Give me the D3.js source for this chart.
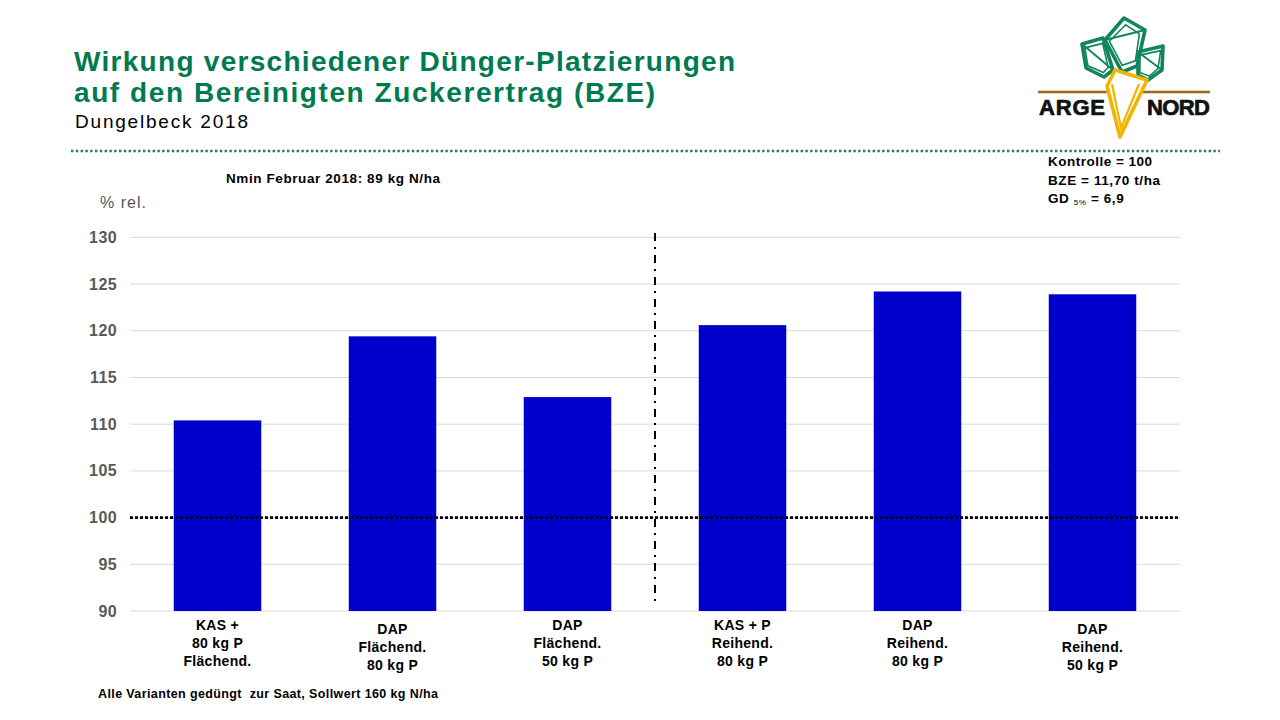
<!DOCTYPE html>
<html>
<head>
<meta charset="utf-8">
<script src="https://cdn.jsdelivr.net/npm/d3@7"></script>
<style>
  body { margin: 0; background: #fff; }
  svg { display: block; font-family: "Liberation Sans", Arial, sans-serif; }
</style>
</head>
<body>
<svg width="1280" height="720"></svg>
<script>
// Data
var categories = [
    ["KAS +", "80 kg P", "Flächend."],
    ["DAP", "Flächend.", "80 kg P"],
    ["DAP", "Flächend.", "50 kg P"],
    ["KAS + P", "Reihend.", "80 kg P"],
    ["DAP", "Reihend.", "80 kg P"],
    ["DAP", "Reihend.", "50 kg P"]
];
var values = [110.4, 119.4, 112.9, 120.6, 124.2, 123.9];
var yTicks = [90, 95, 100, 105, 110, 115, 120, 125, 130];
var controlValue = 100;

var svg = d3.select("svg");

// Scales
var x = d3.scaleBand()
    .domain(d3.range(categories.length))
    .range([130, 1180])
    .paddingInner(0.5)
    .paddingOuter(0.25);

var y = d3.scaleLinear()
    .domain([90, 130])
    .range([611, 237.3]);

// helper for text stretched to the width seen in the reference
function label(parent, xPos, yPos, size, bold, txt, len) {
    var t = parent.append("text")
        .attr("x", xPos).attr("y", yPos)
        .attr("font-size", size)
        .attr("font-weight", bold ? "bold" : "normal")
        .attr("xml:space", "preserve")
        .text(txt);
    if (len) t.attr("textLength", len).attr("lengthAdjust", "spacing");
    return t;
}

// Title block
label(svg, 74, 71, 28, true, "Wirkung verschiedener Dünger-Platzierungen", 661).attr("fill", "#007a4f");
label(svg, 74, 102, 28, true, "auf den Bereinigten Zuckerertrag (BZE)", 581).attr("fill", "#007a4f");
label(svg, 75, 128, 19, false, "Dungelbeck 2018", 173).attr("fill", "#000");

// green dotted separator
svg.append("line")
    .attr("x1", 71).attr("x2", 1220)
    .attr("y1", 151).attr("y2", 151)
    .attr("stroke", "#2a7d55").attr("stroke-width", 2.6)
    .attr("stroke-dasharray", "2.4,2.4");

// Logo (simplified drawing)
var logo = svg.append("g").attr("class", "logo");
var leafGreen = "#12855a";
[
    [[1082, 44], [1103, 38], [1113, 70], [1104, 77], [1086, 68]],
    [[1105, 40], [1124, 18], [1145, 30], [1137, 66], [1122, 72]],
    [[1138, 52], [1163, 46], [1162, 70], [1148, 80], [1138, 75]]
].forEach(function (pts) {
    logo.append("path")
        .attr("d", d3.line()(pts) + "Z")
        .attr("fill", "none")
        .attr("stroke", leafGreen)
        .attr("stroke-width", 3.6)
        .attr("stroke-linejoin", "round");
    var inner = pts.map(function (p, i) {
        var cx = d3.mean(pts, function (q) { return q[0]; });
        var cy = d3.mean(pts, function (q) { return q[1]; });
        return [cx + (p[0] - cx) * 0.75 + (i % 2 ? 1 : -1), cy + (p[1] - cy) * 0.75];
    });
    logo.append("path")
        .attr("d", d3.line()(inner) + "Z")
        .attr("fill", "none")
        .attr("stroke", leafGreen).attr("stroke-width", 1.6);
    logo.append("path")
        .attr("d", d3.line()([pts[0], pts[2]]))
        .attr("stroke", leafGreen).attr("stroke-width", 2);
});
logo.append("line")
    .attr("x1", 1038).attr("x2", 1210)
    .attr("y1", 92).attr("y2", 92)
    .attr("stroke", "#a8621f").attr("stroke-width", 2.6);
logo.append("path")
    .attr("d", d3.line()([[1115, 70], [1147, 80], [1120, 137], [1107, 86]]) + "Z")
    .attr("fill", "#fff")
    .attr("stroke", "#f2b400").attr("stroke-width", 3.6)
    .attr("stroke-linejoin", "round");
logo.append("path")
    .attr("d", d3.line()([[1112, 84], [1121, 128], [1139, 84]]))
    .attr("fill", "none")
    .attr("stroke", "#f2b400").attr("stroke-width", 2.2);
label(logo, 1039, 115, 22, true, "ARGE", 66).attr("fill", "#111").attr("stroke", "#111").attr("stroke-width", 0.7);
label(logo, 1147, 115, 22, true, "NORD", 63).attr("fill", "#111").attr("stroke", "#111").attr("stroke-width", 0.7);

// Info text
label(svg, 226, 183, 13.5, true, "Nmin Februar 2018: 89 kg N/ha", 214);

var info = svg.append("g");
label(info, 1048, 166, 13.5, true, "Kontrolle = 100", 104);
label(info, 1048, 185, 13.5, true, "BZE = 11,70 t/ha", 112);
var gd = info.append("text").attr("x", 1048).attr("y", 203)
    .attr("font-size", 13.5).attr("font-weight", "bold").attr("letter-spacing", 0.6);
gd.append("tspan").text("GD ");
gd.append("tspan").attr("font-size", 8).attr("font-weight", "normal").attr("dy", 2).text("5%");
gd.append("tspan").attr("dy", -2).text(" = 6,9");

// axis label
label(svg, 100, 208, 16, false, "% rel.", 46).attr("fill", "#595959");

// Gridlines
svg.append("g")
    .selectAll("line")
    .data(yTicks)
    .enter().append("line")
    .attr("x1", 130).attr("x2", 1180)
    .attr("y1", function (d) { return y(d); })
    .attr("y2", function (d) { return y(d); })
    .attr("stroke", "#d9d9d9").attr("stroke-width", 1);

// Y axis labels
var yAxis = d3.axisLeft(y).tickValues(yTicks).tickSize(0).tickPadding(0);
var yg = svg.append("g")
    .attr("transform", "translate(117,0)")
    .call(yAxis);
yg.select(".domain").remove();
yg.selectAll("text")
    .attr("font-size", 16).attr("font-weight", "bold")
    .attr("fill", "#595959")
    .attr("letter-spacing", 0.4)
    .attr("font-family", "Liberation Sans, Arial, sans-serif");

// Bars
svg.append("g")
    .selectAll("rect")
    .data(values)
    .enter().append("rect")
    .attr("x", function (d, i) { return x(i); })
    .attr("width", x.bandwidth())
    .attr("y", function (d) { return y(d); })
    .attr("height", function (d) { return y(90) - y(d); })
    .attr("fill", "#0000cc");

// Control line (100)
svg.append("line")
    .attr("x1", 130).attr("x2", 1180)
    .attr("y1", y(controlValue)).attr("y2", y(controlValue))
    .attr("stroke", "#000").attr("stroke-width", 2.8)
    .attr("stroke-dasharray", "3,2");

// Separator between Flächend. and Reihend.
var sepX = (x(2) + x.bandwidth() + x(3)) / 2;
svg.append("line")
    .attr("x1", sepX).attr("x2", sepX)
    .attr("y1", 233).attr("y2", 607)
    .attr("stroke", "#000").attr("stroke-width", 2)
    .attr("stroke-dasharray", "8,6,2,6");

// X labels
var xl = svg.append("g")
    .selectAll("text")
    .data(categories)
    .enter().append("text")
    .attr("text-anchor", "middle")
    .attr("font-size", 14).attr("font-weight", "bold")
    .attr("letter-spacing", 0.3)
    .attr("transform", function (d, i) {
        var off = (i === 1 || i === 5) ? 4 : 0;
        return "translate(" + (x(i) + x.bandwidth() / 2) + "," + (630 + off) + ")";
    });
xl.selectAll("tspan")
    .data(function (d) { return d; })
    .enter().append("tspan")
    .attr("x", 0)
    .attr("y", function (d, j) { return j * 18; })
    .text(function (d) { return d; });

// Footer
label(svg, 98, 698, 12.5, true, "Alle Varianten gedüngt  zur Saat, Sollwert 160 kg N/ha", 340);
</script>
</body>
</html>
